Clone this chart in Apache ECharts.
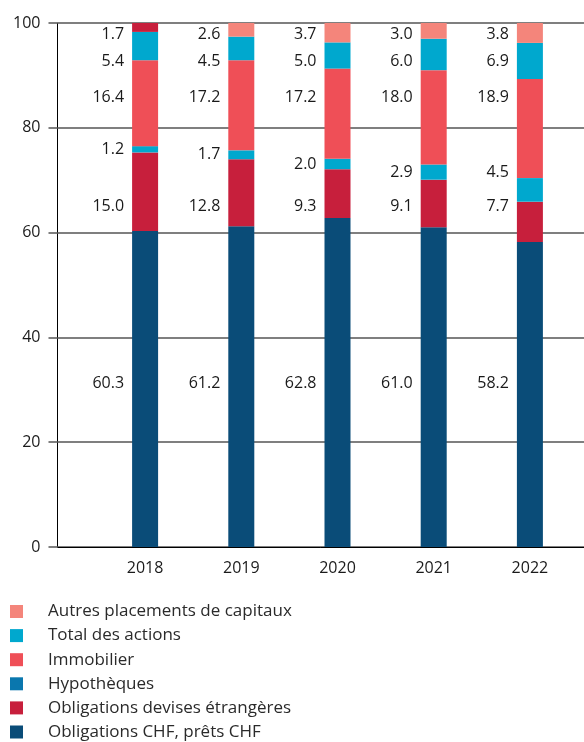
<!DOCTYPE html>
<html>
<head>
<meta charset="utf-8">
<script src="https://cdn.jsdelivr.net/npm/echarts@6/dist/echarts.min.js"></script>
<style>
html,body{margin:0;padding:0;background:#fff;}
#chart{width:584px;height:742px;}
</style>
</head>
<body>
<div id="chart"></div>
<script>
const years = ['2018', '2019', '2020', '2021', '2022'];
const obligationsChf = [60.3, 61.2, 62.8, 61.0, 58.2];
const obligationsDevises = [15.0, 12.8, 9.3, 9.1, 7.7];
const hypotheques = [1.2, 1.7, 2.0, 2.9, 4.5];
const immobilier = [16.4, 17.2, 17.2, 18.0, 18.9];
const actions = [5.4, 4.5, 5.0, 6.0, 6.9];
const autres = [1.7, 2.6, 3.7, 3.0, 3.8];
const yTicks = [0, 20, 40, 60, 80, 100];

const names = {
  chf: 'Obligations CHF, prêts CHF',
  dev: 'Obligations devises étrangères',
  hyp: 'Hypothèques',
  imm: 'Immobilier',
  act: 'Total des actions',
  aut: 'Autres placements de capitaux'
};
const colors = {
  chf: '#0a4c78', dev: '#c71f3c', hypLegend: '#0a77ae', hyp: '#00a8ce',
  imm: '#ef4f57', act: '#00a8ce', aut: '#f4857b'
};

// layout
const GRID_TOP = 23, GRID_BOTTOM_Y = 547;
const PX = (GRID_BOTTOM_Y - GRID_TOP) / 100;
const yPix = v => GRID_BOTTOM_Y - v * PX;
// label rows (pixel y of label centre)
const rowY = { chf: 383, dev: 206, imm: 97, act: 61, aut: 34 };
const hypMaxY = 172;

const order = [
  ['chf', obligationsChf], ['dev', obligationsDevises], ['hyp', hypotheques],
  ['imm', immobilier], ['act', actions], ['aut', autres]
];
const base = years.map(() => 0);
const labelFont = { fontFamily: 'Open Sans', fontSize: 16, color: '#1a1a1a' };

const series = order.map(([key, arr]) => {
  const data = arr.map((v, i) => {
    const mid = yPix(base[i] + v / 2);
    let target;
    if (key === 'hyp') target = Math.min(mid, hypMaxY);
    else target = rowY[key];
    base[i] += v;
    const item = { value: v, label: { offset: [0, target - mid] } };
    if (key === 'aut' && i === 0) item.itemStyle = { color: colors.dev };
    return item;
  });
  return {
    name: names[key],
    type: 'bar',
    stack: 'total',
    xAxisIndex: 1,
    yAxisIndex: 1,
    barWidth: 26,
    itemStyle: { color: colors[key] },
    label: Object.assign({
      show: true, position: 'left', distance: 8,
      formatter: p => p.value.toFixed(1)
    }, labelFont),
    emphasis: { disabled: true },
    data: data
  };
});

const chart = echarts.init(document.getElementById('chart'), null, { renderer: 'canvas' });
chart.setOption({
  animation: false,
  backgroundColor: '#fff',
  grid: [
    { left: 57.5, right: 0, top: GRID_TOP, bottom: 742 - GRID_BOTTOM_Y },
    { left: 97, right: 6, top: GRID_TOP, bottom: 742 - GRID_BOTTOM_Y }
  ],
  xAxis: [
    { gridIndex: 0, type: 'category', data: years, boundaryGap: true,
      axisLine: { show: true, lineStyle: { color: '#000', width: 1 } },
      axisTick: { show: false }, axisLabel: { show: false }, splitLine: { show: false } },
    { gridIndex: 1, type: 'category', data: years, boundaryGap: true,
      axisLine: { show: false }, axisTick: { show: false },
      axisLabel: Object.assign({ margin: 13 }, labelFont), splitLine: { show: false } }
  ],
  yAxis: [
    { gridIndex: 0, type: 'value', min: yTicks[0], max: yTicks[yTicks.length - 1], interval: 20,
      axisLine: { show: true, lineStyle: { color: '#000', width: 1 } },
      axisTick: { show: true, length: 9, lineStyle: { color: '#7f7f7f', width: 2 } },
      axisLabel: Object.assign({ margin: 17 }, labelFont),
      splitLine: { show: true, lineStyle: { color: '#7f7f7f', width: 2 } } },
    { gridIndex: 1, type: 'value', min: 0, max: 100, show: false, splitLine: { show: false } }
  ],
  legend: {
    orient: 'vertical', left: 10, top: 603, height: 200, padding: 0,
    itemWidth: 13, itemHeight: 13, itemGap: 7.1, icon: 'rect',
    selectedMode: false,
    textStyle: { fontFamily: 'Open Sans', fontSize: 17, color: '#2a2a2a', padding: [0, 0, 0, 20] },
    data: [
      { name: names.aut, itemStyle: { color: colors.aut } },
      { name: names.act, itemStyle: { color: colors.act } },
      { name: names.imm, itemStyle: { color: colors.imm } },
      { name: names.hyp, itemStyle: { color: colors.hypLegend } },
      { name: names.dev, itemStyle: { color: colors.dev } },
      { name: names.chf, itemStyle: { color: colors.chf } }
    ]
  },
  series: series
});
</script>
</body>
</html>
